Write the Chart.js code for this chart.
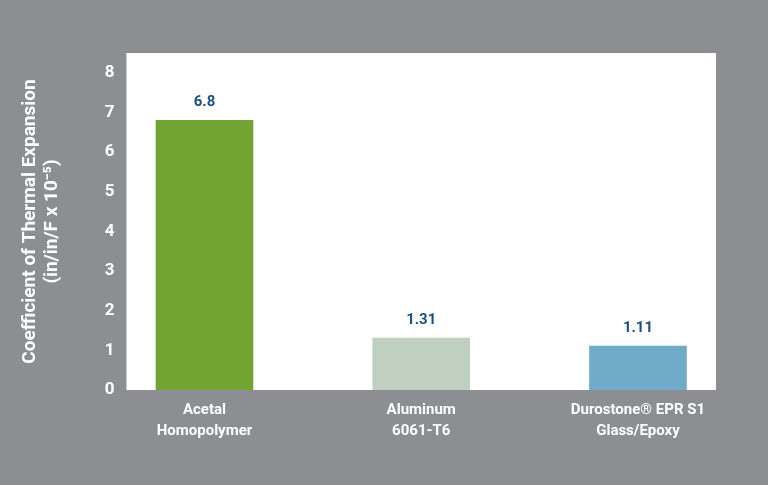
<!DOCTYPE html>
<html>
<head>
<meta charset="utf-8">
<script src="https://cdn.jsdelivr.net/npm/chart.js@4.4.1/dist/chart.umd.min.js"></script>
<style>
  html, body { margin: 0; padding: 0; background: #8c8e91; }
  #wrap { width: 768px; height: 485px; position: relative; }
</style>
</head>
<body>
<div id="wrap"><canvas id="c"></canvas></div>
<script>
const categories = [
  ["Acetal", "Homopolymer"],
  ["Aluminum", "6061-T6"],
  ["Durostone\u00AE EPR S1", "Glass/Epoxy"]
];
const values = [6.8, 1.31, 1.11];
const valueLabels = ["6.8", "1.31", "1.11"];
const barColors = ["#72a433", "#bfcfc0", "#70abc9"];
const yTicks = [0, 1, 2, 3, 4, 5, 6, 7, 8];
const yTitle = ["Coefficient of Thermal Expansion", "(in/in/F x 10\u207B\u2075)"];

const plotBg = {
  id: 'plotBg',
  beforeDraw(chart) {
    const { ctx, chartArea: a } = chart;
    ctx.save();
    ctx.fillStyle = '#ffffff';
    ctx.fillRect(a.left, a.top, a.right - a.left, a.bottom - a.top);
    ctx.restore();
  }
};

const valueLabelPlugin = {
  id: 'valueLabels',
  afterDatasetsDraw(chart) {
    const { ctx } = chart;
    const meta = chart.getDatasetMeta(0);
    ctx.save();
    ctx.fillStyle = '#1d4f7c';
    ctx.font = 'bold 15px Roboto';
    ctx.textAlign = 'center';
    ctx.textBaseline = 'middle';
    meta.data.forEach((el, i) => {
      ctx.fillText(valueLabels[i], el.x, el.y - 18);
    });
    ctx.restore();
  }
};

new Chart(document.getElementById('c'), {
  type: 'bar',
  data: {
    datasets: [{
      data: values.map((v, i) => ({ x: i, y: v })),
      backgroundColor: barColors,
      borderWidth: 0,
      barThickness: 97
    }]
  },
  options: {
    responsive: true,
    maintainAspectRatio: false,
    animation: false,
    devicePixelRatio: 1,
    layout: { padding: { top: 53, right: 52, left: 19, bottom: 33 } },
    plugins: { legend: { display: false }, tooltip: { enabled: false } },
    scales: {
      x: {
        type: 'linear',
        offset: false,
        min: -0.36,
        max: 2.36,
        afterBuildTicks(scale) { scale.ticks = categories.map((c, i) => ({ value: i })); },
        grid: { display: false, drawTicks: false, offset: false },
        border: { display: false },
        ticks: {
          color: '#ffffff',
          font: { family: 'Roboto', weight: 'bold', size: 15, lineHeight: 1.4 },
          padding: 10,
          maxRotation: 0,
          autoSkip: false,
          callback: (v) => categories[v]
        }
      },
      y: {
        min: 0,
        max: 8.5,
        afterBuildTicks(scale) { scale.ticks = yTicks.map(v => ({ value: v })); },
        grid: { display: false, drawTicks: false },
        border: { display: false },
        ticks: {
          color: '#ffffff',
          font: { family: 'Roboto', weight: 'bold', size: 17 },
          padding: 12
        },
        title: {
          display: true,
          text: yTitle,
          color: '#ffffff',
          font: { family: 'Roboto', weight: 'bold', size: 19, lineHeight: 1.15 },
          padding: { top: 0, bottom: 30 }
        }
      }
    }
  },
  plugins: [plotBg, valueLabelPlugin]
});
</script>
</body>
</html>
